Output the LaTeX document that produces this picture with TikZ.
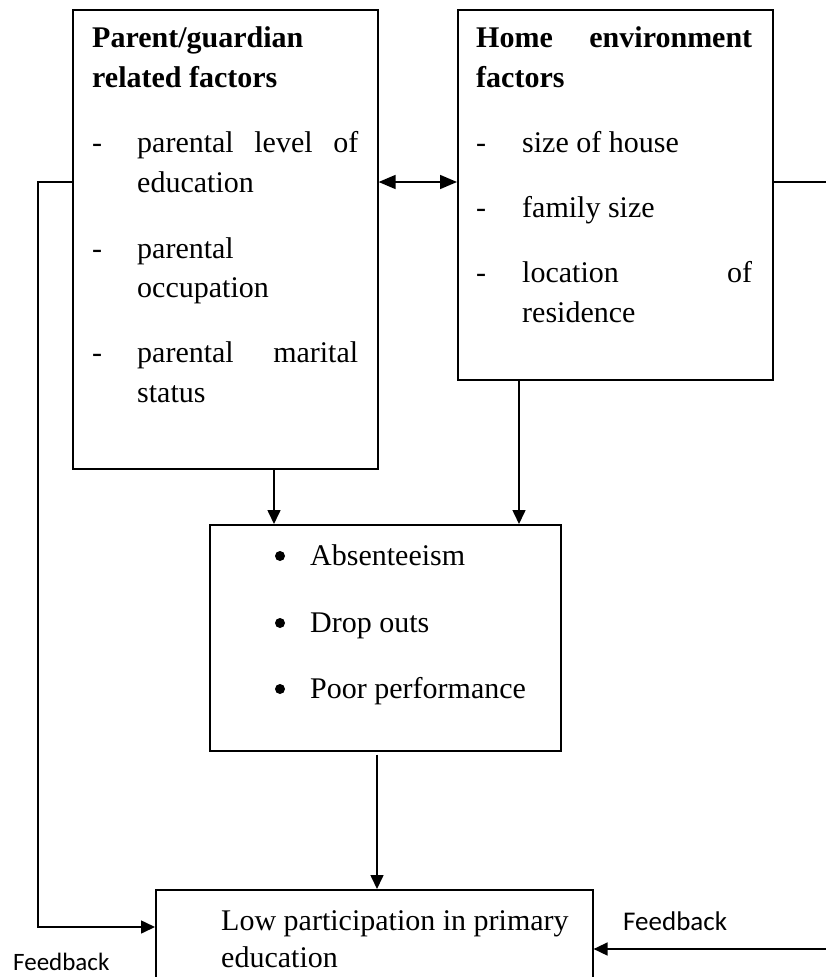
\documentclass[tikz,border=0pt]{standalone}
\usepackage{fontspec}
\setmainfont{Liberation Serif}
\newfontfamily\fbfont{Carlito}
\usetikzlibrary{arrows.meta}
\begin{document}
\begin{tikzpicture}[x=1pt,y=-1pt,>={Triangle[length=14pt,width=13pt]},
	box/.style={draw,line width=1.6pt,inner sep=0pt,anchor=north west},
	txt/.style={anchor=base west,inner sep=0pt,font=\fontsize{30}{36}\selectfont},
	head/.style={txt,font=\fontsize{30}{36}\selectfont\bfseries},
	dot/.style={circle,fill,inner sep=0pt,minimum size=10pt},
	fb/.style={anchor=base west,inner sep=0pt,font=\fbfont\fontsize{25}{30}\selectfont},
	link/.style={line width=1.6pt}]
	\useasboundingbox (0,0) rectangle (825,977);
	% boxes
	\node[box,minimum width=305pt,minimum height=459pt] (parent) at (72,9) {};
	\node[box,minimum width=315pt,minimum height=370pt] (home) at (457,9) {};
	\node[box,minimum width=351pt,minimum height=226pt] (effects) at (209,524) {};
	\node[box,minimum width=437pt,minimum height=110pt] (low) at (155,889) {};
	% parent/guardian text
	\node[head] (ph1) at (92,47) {Parent/guardian};
	\node[head] (ph2) at (92,87) {related factors};
	\foreach \y/\n in {152/1,258/2,362/3}\node[txt] (pd\n) at (92,\y) {-};
	\node[txt] (pi1) at (137,152) {\makebox[221pt][s]{parental level of}};
	\node[txt] (pi2) at (137,192) {education};
	\node[txt] (pi3) at (137,258) {parental};
	\node[txt] (pi4) at (137,297) {occupation};
	\node[txt] (pi5) at (137,362) {\makebox[221pt][s]{parental marital}};
	\node[txt] (pi6) at (137,402) {status};
	% home text
	\node[head] (hh1) at (476,47) {\makebox[276pt][s]{Home environment}};
	\node[head] (hh2) at (476,87) {factors};
	\foreach \y/\n in {152/1,217/2,282/3}\node[txt] (hd\n) at (476,\y) {-};
	\node[txt] (hi1) at (522,152) {size of house};
	\node[txt] (hi2) at (522,217) {family size};
	\node[txt] (hi3) at (522,282) {\makebox[230pt][s]{location of}};
	\node[txt] (hi4) at (522,322) {residence};
	% effects text
	\foreach \y/\t [count=\n] in {565/Absenteeism,632/Drop outs,698/Poor performance}{
		\node[dot] (eb\n) at (280,\y-9) {};
		\node[txt] (ei\n) at (310,\y) {\t};
	}
	% outcome text
	\node[txt] (lo1) at (221,930) {Low participation in primary};
	\node[txt] (lo2) at (221,967) {education};
	\node[fb] (fbl) at (13,970) {Feedback};
	\node[fb,font=\fbfont\fontsize{27}{30}\selectfont] (fbr) at (623,930) {Feedback};
	% connectors
	\coordinate (lvl) at (0,182);
	\coordinate (lfb) at (38,927);
	\coordinate (rfb) at (832,949);
	\coordinate (a1) at (274,0);
	\coordinate (a2) at (519,0);
	\coordinate (a3) at (377,0);
	\draw[link,<->,>={Triangle[length=17pt,width=14pt]}] (parent.east |- lvl)--(home.west |- lvl);
	\draw[link,->] (parent.west |- lvl)-|(lfb)--(low.west |- lfb);
	\draw[link,->] (home.east |- lvl)-|(rfb)--(low.east |- rfb);
	\draw[link,->] (parent.south -| a1)--(effects.north -| a1);
	\draw[link,->] (home.south -| a2)--(effects.north -| a2);
	\draw[link,->] ([yshift=-3pt]effects.south -| a3)--(low.north -| a3);
\end{tikzpicture}
\end{document}
